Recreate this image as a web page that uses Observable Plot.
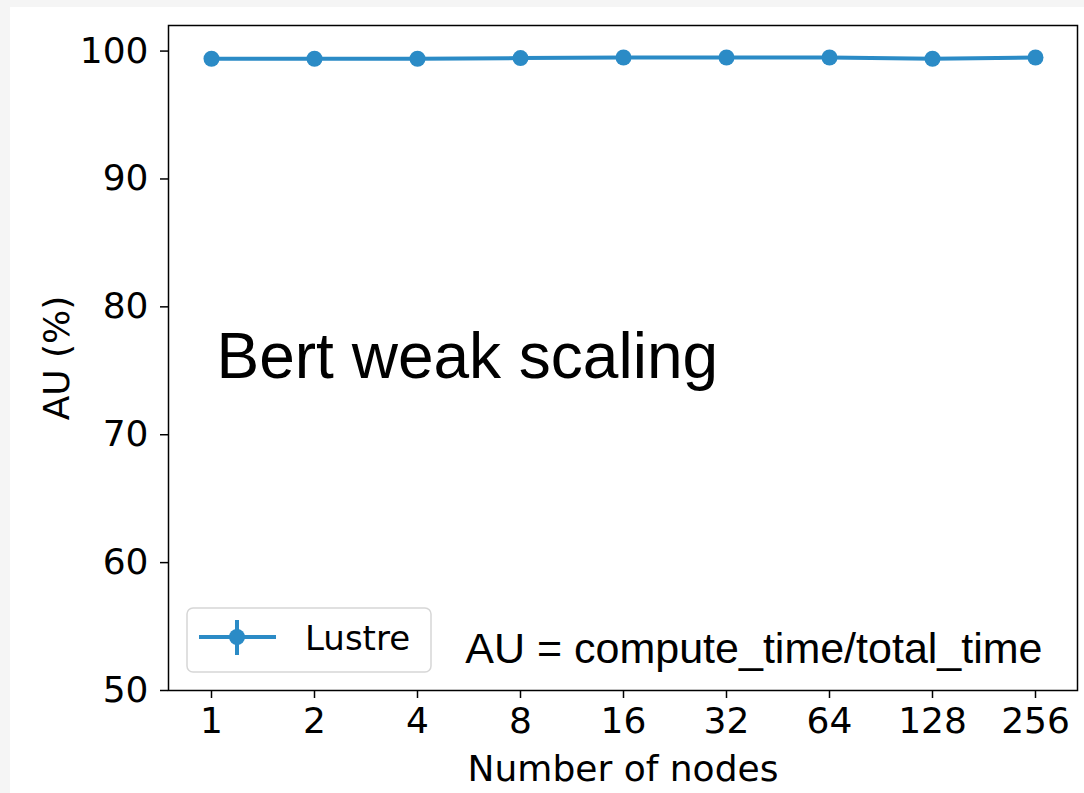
<!DOCTYPE html>
<html>
<head>
<meta charset="utf-8">
<script src="https://cdn.jsdelivr.net/npm/d3@7"></script>
<script src="https://cdn.jsdelivr.net/npm/@observablehq/plot@0.6"></script>
<style>
  html, body { margin: 0; padding: 0; background: #f5f5f5; }
  #chart { position: absolute; left: 10px; top: 7px; width: 1074px; height: 786px; background: #fff; }
  #chart svg { display: block; }
</style>
</head>
<body>
<div id="chart"></div>
<script>
// Node counts (categorical x) and measured accelerator utilisation (%)
const nodes = ["1", "2", "4", "8", "16", "32", "64", "128", "256"];
const au = [99.4, 99.4, 99.4, 99.45, 99.5, 99.5, 99.5, 99.4, 99.5];
const yTicks = [50, 60, 70, 80, 90, 100];
const seriesName = "Lustre";
const blue = "#2b8bc6";

const data = nodes.map((n, i) => ({nodes: n, au: au[i]}));

const W = 1074, H = 786;
const mL = 158, mR = 7, mT = 18, mB = 103;

const chart = Plot.plot({
  width: W,
  height: H,
  marginLeft: mL,
  marginRight: mR,
  marginTop: mT,
  marginBottom: mB,
  style: {fontFamily: "DejaVu Sans", fontSize: "36px", color: "black", background: "white", overflow: "visible"},
  x: {type: "point", domain: nodes, padding: 0.4, label: null},
  y: {domain: [50, 102], label: null},
  marks: [
    Plot.axisX({tickSize: 8, tickPadding: 9, label: null, strokeWidth: 1.5, fontSize: 36}),
    Plot.axisY({ticks: yTicks, tickSize: 8, tickPadding: 12, label: null, strokeWidth: 1.5, fontSize: 36}),
    Plot.line(data, {x: "nodes", y: "au", stroke: blue, strokeWidth: 4}),
    Plot.dot(data, {x: "nodes", y: "au", r: 8, fill: blue}),
    Plot.frame({stroke: "black", strokeWidth: 1.5}),
    Plot.text(["Bert weak scaling"], {text: d => d, frameAnchor: "left", dx: 48, textAnchor: "start", lineAnchor: "middle",
      fontFamily: "Liberation Sans, Arial, sans-serif", fontSize: 64}),
    Plot.text(["AU = compute_time/total_time"], {text: d => d, frameAnchor: "bottom-right", dx: -35, dy: -41,
      textAnchor: "end", lineAnchor: "middle", fontFamily: "Liberation Sans, Arial, sans-serif", fontSize: 43}),
    Plot.text(["AU (%)"], {text: d => d, frameAnchor: "left", dx: -111, rotate: -90,
      textAnchor: "middle", lineAnchor: "middle", fontSize: 36}),
    Plot.text(["Number of nodes"], {text: d => d, frameAnchor: "bottom", dy: 79,
      textAnchor: "middle", lineAnchor: "middle", fontSize: 36})
  ]
});

document.getElementById("chart").appendChild(chart);

// Legend box in the lower-left corner of the frame
const svg = d3.select(chart);
const fx = mL, fb = H - mB;
const lg = svg.append("g").attr("transform", `translate(${fx + 19},${fb - 82})`);
lg.append("rect")
  .attr("width", 244).attr("height", 64).attr("rx", 6)
  .attr("fill", "white").attr("fill-opacity", 0.8)
  .attr("stroke", "#d6d6d6").attr("stroke-width", 1.5);
lg.append("line").attr("x1", 12).attr("x2", 89).attr("y1", 29).attr("y2", 29)
  .attr("stroke", blue).attr("stroke-width", 4);
lg.append("line").attr("x1", 50).attr("x2", 50).attr("y1", 12).attr("y2", 47)
  .attr("stroke", blue).attr("stroke-width", 4);
lg.append("circle").attr("cx", 50).attr("cy", 29).attr("r", 8).attr("fill", blue);
lg.append("text").attr("x", 118).attr("y", 42)
  .attr("text-anchor", "start")
  .attr("font-family", "DejaVu Sans").attr("font-size", 34).attr("fill", "black")
  .text(seriesName);
</script>
</body>
</html>
